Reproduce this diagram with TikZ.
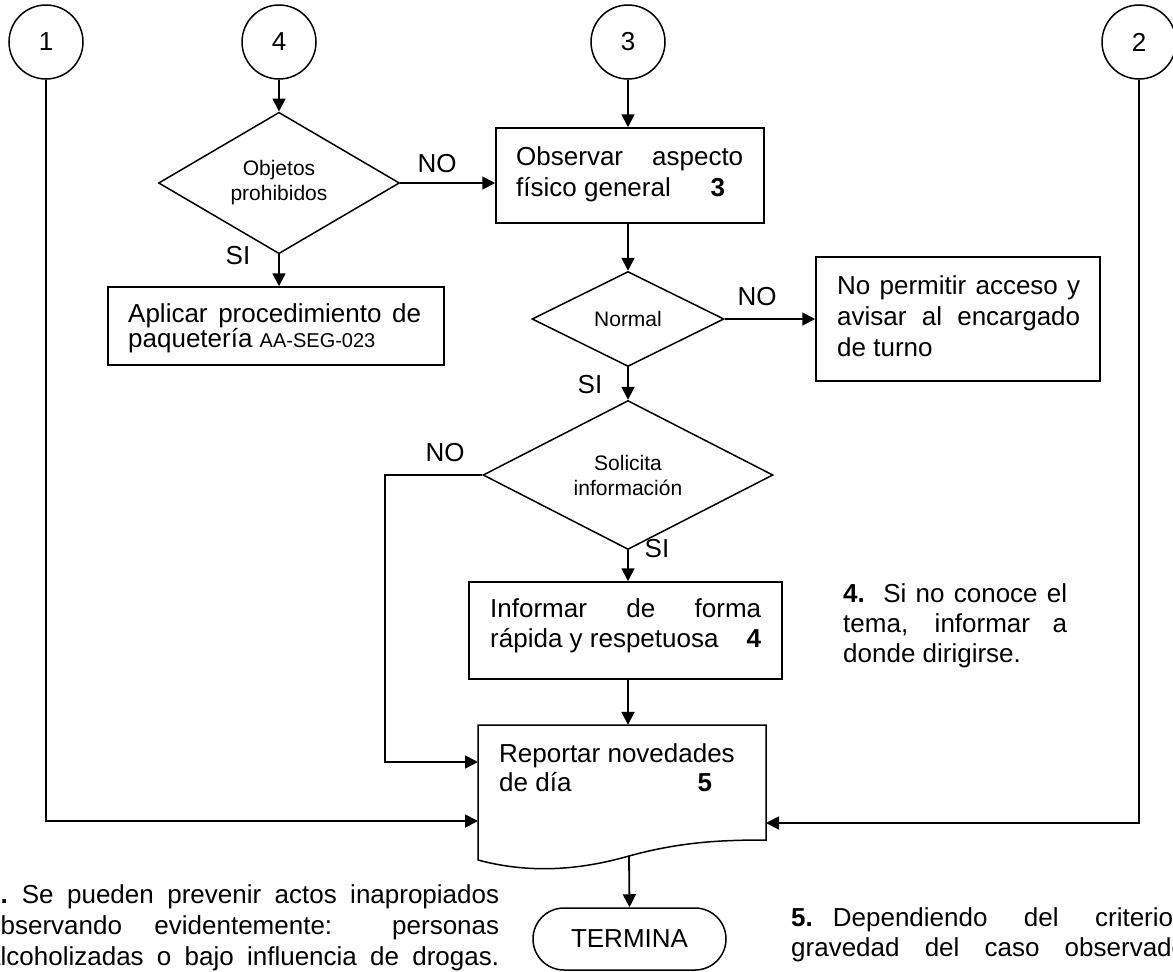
\documentclass[tikz,border=0pt]{standalone}
\usepackage{fontspec}
\setmainfont{Liberation Sans}
\usetikzlibrary{shapes.geometric,arrows.meta,calc}
\begin{document}
\begin{tikzpicture}[x=1pt,y=-1pt,
  shp/.style={draw,line width=1.5pt},
  box/.style={shp,rectangle,inner sep=0pt},
  dia/.style={shp,diamond,inner sep=0pt,align=center,font=\fontsize{21}{25}\selectfont},
  con/.style={shp,circle,inner sep=0pt,minimum size=74pt,font=\fontsize{26}{31}\selectfont},
  arr/.style={line width=1.8pt,-{Triangle[length=13pt,width=13pt]}},
  txt/.style={inner sep=0pt,anchor=base west,font=\fontsize{26}{31}\selectfont},
  lbl/.style={inner sep=0pt,font=\fontsize{26}{31}\selectfont}]
\useasboundingbox (0,0) rectangle (1173,972);
\clip (0,0) rectangle (1173,972);

% connectors (circles)
\node[con] (c1) at (46,42) {1};
\node[con] (c4) at (279,42) {4};
\node[con] (c3) at (628,42) {3};
\node[con] (c2) at (1139,42) {2};

% decisions
\node[dia,minimum width=241pt,minimum height=119pt] (d1) at (279,183) {Objetos\\prohibidos};
\node[dia,minimum width=192pt,minimum height=95pt] (d2) at (628,319) {Normal};
\node[dia,minimum width=290pt,minimum height=120pt] (d3) at (628,475) {Solicita\\información};

% process boxes
\node[box,minimum width=268pt,minimum height=95pt] (obs) at (630,175.5) {};
\node[box,minimum width=336pt,minimum height=78pt] (apl) at (276,326) {};
\node[box,minimum width=284pt,minimum height=124pt] (nop) at (958,319) {};
\node[box,minimum width=313pt,minimum height=97pt] (inf) at (625.5,630.5) {};
\node[shp,rectangle,rounded corners=31pt,minimum width=193pt,minimum height=62pt,inner sep=0pt,font=\fontsize{26}{31}\selectfont] (term) at (629.5,939) {TERMINA};

% document shape
\node[inner sep=0pt,minimum width=288pt,minimum height=135pt] (rep) at (622,792.5) {};
\draw[shp] (478,725) -- (766,725) -- (766,840)
  .. controls (720,840) and (680,842) .. (629,856)
  .. controls (580,870) and (530,874) .. (478,860) -- cycle;
\coordinate (repB) at (629,856);
\coordinate (repL1) at (478,762);
\coordinate (repL2) at (478,821);
\coordinate (repR) at (766,823);
\coordinate (noL) at (385,475);

% texts in boxes
\node[txt] (tobs1) at (516,165) {\makebox[227pt][s]{Observar aspecto}};
\node[txt] (tobs2) at (516,196) {\makebox[209pt][l]{físico general\hfill\textbf{3}}};
\node[txt] (tapl1) at (128,322) {\makebox[293pt][s]{Aplicar procedimiento de}};
\node[txt] (tapl2) at (128,347) {paquetería {\fontsize{20}{24}\selectfont AA-SEG-023}};
\node[txt] (tnop1) at (837,294) {\makebox[243pt][s]{No permitir acceso y}};
\node[txt] (tnop2) at (837,325) {\makebox[243pt][s]{avisar al encargado}};
\node[txt] (tnop3) at (837,356) {de turno};
\node[txt] (tinf1) at (490,617) {\makebox[271pt][s]{Informar de forma}};
\node[txt] (tinf2) at (490,647) {\makebox[271pt][l]{rápida y respetuosa\hfill\textbf{4}}};
\node[txt] (trep1) at (499,762) {Reportar novedades};
\node[txt] (trep2) at (499,791) {\makebox[213pt][l]{de día\hfill\textbf{5}}};

% notes
\node[txt] (n4a) at (843,602) {\makebox[224pt][s]{\textbf{4.}\ \ Si no conoce el}};
\node[txt] (n4b) at (843,632) {\makebox[224pt][s]{tema, informar a}};
\node[txt] (n4c) at (843,662) {donde dirigirse.};
\node[txt] (n3a) at (-14,903) {\makebox[513pt][s]{\textbf{3.}\hspace{14pt}Se pueden prevenir actos inapropiados}};
\node[txt] (n3b) at (-14,934) {\makebox[513pt][s]{observando evidentemente: personas}};
\node[txt] (n3c) at (-14,965) {\makebox[513pt][s]{alcoholizadas o bajo influencia de drogas.}};
\node[txt] (n5a) at (791,926) {\makebox[382pt][s]{\textbf{5.}\hspace{20pt}Dependiendo del criterio}};
\node[txt] (n5b) at (791,956) {\makebox[395pt][s]{gravedad del caso observado}};

% flow
\draw[arr] (c4) -- (d1);
\draw[arr] (d1.south) -- (d1.south |- apl.north);
\draw[arr] (d1.east) -- (d1.east -| obs.west);
\draw[arr] (c3) -- (c3 |- obs.north);
\draw[arr] (d2 |- obs.south) -- (d2.north);
\draw[arr] (d2.east) -- (d2.east -| nop.west);
\draw[arr] (d2) -- (d3);
\draw[arr] (d3.south) -- (d3.south |- inf.north);
\draw[arr] (d3.south |- inf.south) -- (d3.south |- rep.north);
\draw[arr] (d3.west) -- (noL) |- (repL1);
\draw[arr] (c1.south) |- (repL2);
\draw[arr] (c2.south) |- (repR);
\draw[arr] (repB) -- (term.north);

% labels
\node[lbl] (lno1) at (437,164) {NO};
\node[lbl] (lsi1) at (238,256) {SI};
\node[lbl] (lno2) at (757,297) {NO};
\node[lbl] (lsi2) at (590,385) {SI};
\node[lbl] (lno3) at (445,453) {NO};
\node[lbl] (lsi3) at (657,549) {SI};
\end{tikzpicture}
\end{document}
